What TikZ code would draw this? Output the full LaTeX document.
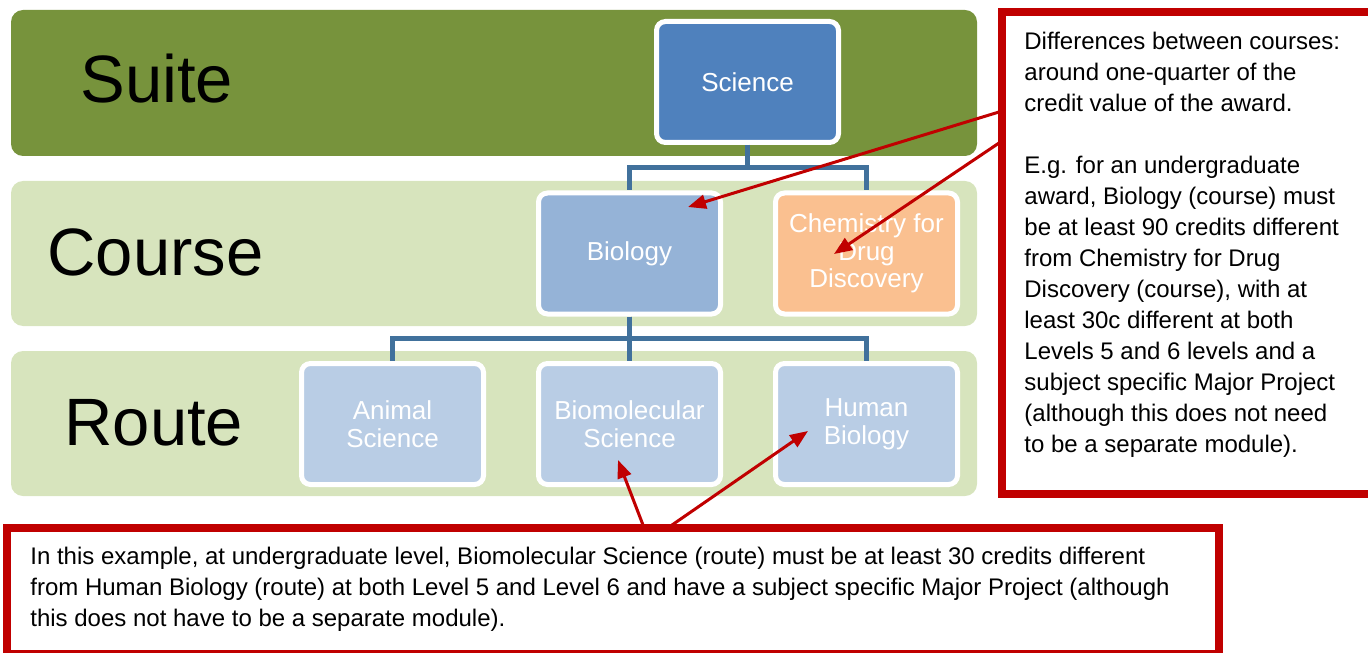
\documentclass[tikz,border=0pt]{standalone}
\usepackage{fontspec}
\setmainfont{Liberation Sans}
\usepackage{xcolor}
\usetikzlibrary{arrows.meta}

\definecolor{suitegreen}{HTML}{77933C}
\definecolor{palegreen}{HTML}{D7E4BD}
\definecolor{suiteblue}{HTML}{4F81BD}
\definecolor{courseblue}{HTML}{95B3D7}
\definecolor{routeblue}{HTML}{B9CDE5}
\definecolor{courseorange}{HTML}{FAC090}
\definecolor{linkblue}{HTML}{41719C}
\definecolor{notered}{HTML}{C00000}

\tikzset{
	band/.style = {rounded corners=6pt},
	level/.style = {anchor=base west, inner sep=0pt, font=\fontsize{33.5}{40}\selectfont},
	unit/.style = {draw=white, line width=2.5pt, rounded corners=4.5pt, text=white,
		minimum width=91pt, minimum height=60.5pt, inner sep=0pt, align=center,
		font=\fontsize{13}{13.75}\selectfont},
	link/.style = {linkblue, line width=2.5pt},
	notebox/.style = {draw=notered, line width=4pt, inner sep=0pt},
	notetext/.style = {anchor=north west, inner sep=0pt, align=left, font=\fontsize{12}{15.5}\selectfont},
	pointer/.style = {notered, line width=1.5pt, -{Triangle[length=9pt, width=7pt]}}
}

\begin{document}
\begin{tikzpicture}[x=0.5pt, y=-0.5pt]
	\useasboundingbox (0,0) rectangle (1368,652);
	\clip (0,0) rectangle (1368,652);

	% levels
	\fill[band, suitegreen] (11,10) rectangle (977,156);
	\fill[band, palegreen] (11,181) rectangle (977,326);
	\fill[band, palegreen] (11,351) rectangle (977,496);

	\node[level] (suite) at (80,103) {Suite};
	\node[level] (course) at (47,275) {Course};
	\node[level] (route) at (64,445) {Route};

	% hierarchy
	\node[unit, fill=suiteblue] (science) at (747.5,82) {Science};
	\node[unit, fill=courseblue] (biology) at (629.5,253.5) {Biology};
	\node[unit, fill=courseorange] (chemistry) at (866.5,253.5) {Chemistry for\\Drug\\Discovery};
	\node[unit, fill=routeblue] (animal) at (392.5,424) {Animal\\Science};
	\node[unit, fill=routeblue] (biomol) at (629.5,424) {Biomolecular\\Science};
	\node[unit, fill=routeblue] (human) at (866.5,424) {Human\\Biology};

	\draw[link] (science.south) -- ++(0,23) -| (biology.north);
	\draw[link] (science.south) -- ++(0,23) -| (chemistry.north);
	\draw[link] (biology.south) -- ++(0,22) -| (animal.north);
	\draw[link] (biology.south) -- (biomol.north);
	\draw[link] (biology.south) -- ++(0,22) -| (human.north);

	% notes
	\node[notebox, minimum width=184.75pt, minimum height=241pt] (coursenote) at (1186.75,253) {};
	\node[notetext] (coursetext) at (1024,32) {Differences between courses:\\
		around one-quarter of the\\
		credit value of the award.\\[15.5pt]
		E.g. for an undergraduate\\
		award, Biology (course) must\\
		be at least 90 credits different\\
		from Chemistry for Drug\\
		Discovery (course), with at\\
		least 30c different at both\\
		Levels 5 and 6 levels and a\\
		subject specific Major Project\\
		(although this does not need\\
		to be a separate module).};

	\node[notebox, minimum width=606pt, minimum height=63pt] (routenote) at (613,591) {};
	\node[notetext] (routetext) at (30,547) {In this example, at undergraduate level, Biomolecular Science (route) must be at least 30 credits different\\
		from Human Biology (route) at both Level 5 and Level 6 and have a subject specific Major Project (although\\
		this does not have to be a separate module).};

	% pointers
	\coordinate (biotip) at (688,207);
	\coordinate (chemtip) at (834,254);
	\coordinate (biomoltip) at (618,460);
	\coordinate (humantip) at (808,431);
	\coordinate (coursefrom1) at (999,112);
	\coordinate (coursefrom2) at (999,143);
	\coordinate (routefrom1) at (643,525);
	\coordinate (routefrom2) at (672,525);

	\draw[pointer] (coursefrom1) -- (biotip);
	\draw[pointer] (coursefrom2) -- (chemtip);
	\draw[pointer] (routefrom1) -- (biomoltip);
	\draw[pointer] (routefrom2) -- (humantip);
\end{tikzpicture}
\end{document}
